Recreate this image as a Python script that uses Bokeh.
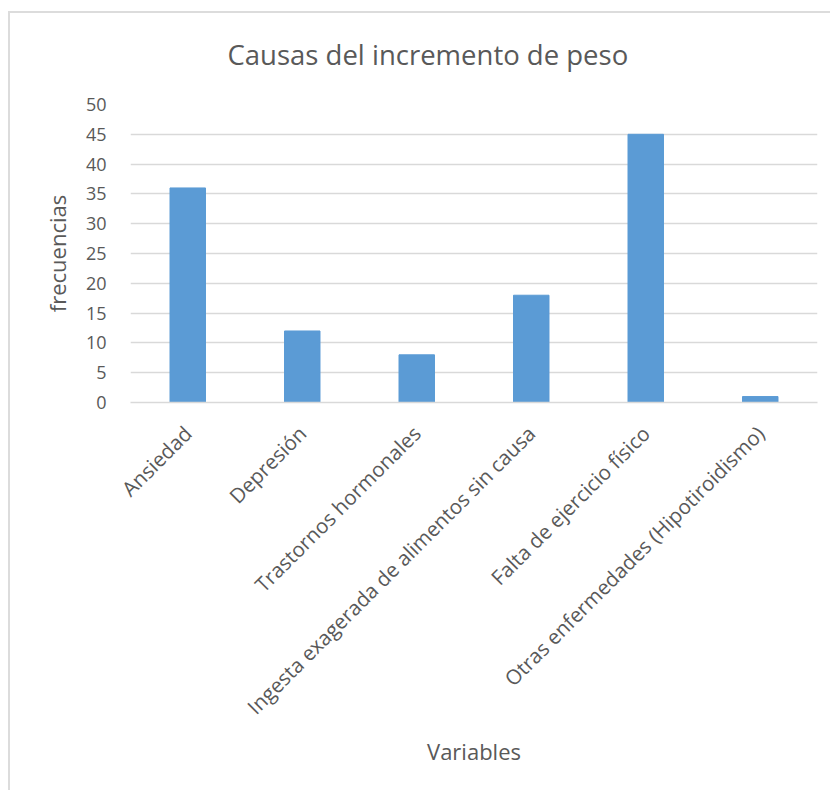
from bokeh.plotting import figure
from bokeh.models import FactorRange, SingleIntervalTicker
from bokeh.embed import file_html
from bokeh.resources import INLINE
from math import pi

categories = ["Ansiedad", "Depresión", "Trastornos hormonales",
              "Ingesta exagerada de alimentos sin causa",
              "Falta de ejercicio físico",
              "Otras enfermedades (Hipotiroidismo)"]
frecuencias = [36, 12, 8, 18, 45, 1]

FONT = "Open Sans"
GREY = "#595959"

p = figure(x_range=FactorRange(factors=categories, range_padding=0),
           y_range=(0, 50), width=830, height=790,
           output_backend="svg", toolbar_location=None,
           min_border_left=130, min_border_top=104, min_border_right=13,
           min_border_bottom=388)
p.border_fill_color = None
p.styles = {
    "background": "linear-gradient(#dcdcdc,#dcdcdc) 8px 11px / 2px 100% no-repeat, "
                  "linear-gradient(#dcdcdc,#dcdcdc) 8px 11px / 100% 2px no-repeat, white"
}

p.vbar(x=categories, top=frecuencias, width=0.31, color="#5b9bd5")

p.title.text = "Causas del incremento de peso"
p.title.align = "left"
p.title.offset = 97
p.title.standoff = 64
p.title.text_font = FONT
p.title.text_font_size = "27.5px"
p.title.text_font_style = "normal"
p.title.text_color = GREY

p.outline_line_color = None
p.xgrid.grid_line_color = None
p.ygrid.grid_line_color = "#d9d9d9"
p.ygrid.grid_line_width = 1.5
p.yaxis.ticker = SingleIntervalTicker(interval=5)

p.yaxis.axis_line_color = None
p.yaxis.major_tick_line_color = None
p.yaxis.minor_tick_line_color = None
p.yaxis.major_tick_out = 0
p.yaxis.major_label_standoff = 20
p.yaxis.major_label_text_font = FONT
p.yaxis.major_label_text_font_size = "18px"
p.yaxis.major_label_text_color = GREY
p.yaxis.axis_label = "frecuencias"
p.yaxis.axis_label_text_font = FONT
p.yaxis.axis_label_text_font_size = "22px"
p.yaxis.axis_label_text_font_style = "normal"
p.yaxis.axis_label_text_color = GREY
p.yaxis.axis_label_standoff = 11

p.xaxis.axis_line_color = "#d9d9d9"
p.xaxis.axis_line_width = 1.5
p.xaxis.major_tick_line_color = None
p.xaxis.minor_tick_line_color = None
p.xaxis.major_tick_out = 0
p.xaxis.major_label_standoff = 27
p.xaxis.major_label_orientation = pi / 4
p.xaxis.major_label_text_font = FONT
p.xaxis.major_label_text_font_size = "20.5px"
p.xaxis.major_label_text_color = GREY
p.xaxis.axis_label = "Variables"
p.xaxis.axis_label_text_font = FONT
p.xaxis.axis_label_text_font_size = "22px"
p.xaxis.axis_label_text_font_style = "normal"
p.xaxis.axis_label_text_color = GREY
p.xaxis.axis_label_standoff = 3

open("out.html", "w").write(file_html(p, INLINE))
